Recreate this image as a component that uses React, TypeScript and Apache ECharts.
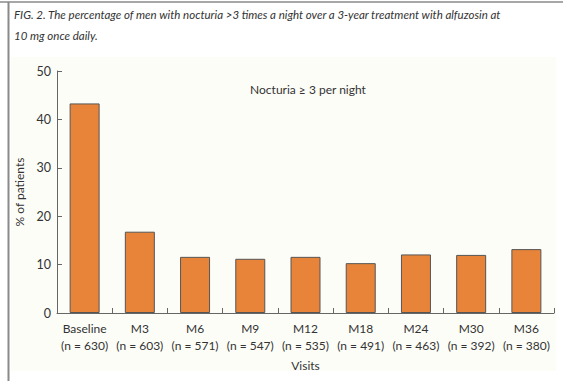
import React, { useEffect, useRef } from "react";
import * as echarts from "echarts";

const categories = ["Baseline", "M3", "M6", "M9", "M12", "M18", "M24", "M30", "M36"];
const sampleSizes = [630, 603, 571, 547, 535, 491, 463, 392, 380];
const percentValues = [43.3, 16.8, 11.6, 11.2, 11.6, 10.3, 12.1, 12.0, 13.2];
const yTicks = [0, 10, 20, 30, 40, 50];

const captionLine1 = "FIG. 2. The percentage of men with nocturia >3 times a night over a 3-year treatment with alfuzosin at";
const captionLine2 = "10 mg once daily.";
const panelTitle = "Nocturia \u2265 3 per night";

const FONT = "Lato";

export default function App() {
  const ref = useRef<HTMLDivElement>(null);
  useEffect(() => {
    if (!ref.current) return;
    const chart = echarts.init(ref.current, undefined, { renderer: "svg" });
    const labels = categories.map((c, i) => `${c}\n(n = ${sampleSizes[i]})`);
    chart.setOption({
      animation: false,
      backgroundColor: "#ffffff",
      textStyle: { fontFamily: FONT },
      grid: { left: 57, right: 9, top: 71, bottom: 68 },
      graphic: [
        { type: "rect", z: -10, shape: { x: 11, y: 57, width: 545, height: 314 }, style: { fill: "#fdfdf8" } },
        { type: "line", z: 10, shape: { x1: 0, y1: 2, x2: 563, y2: 2 }, style: { stroke: "#8a8a8a", lineWidth: 1.5 } },
        { type: "line", z: 10, shape: { x1: 8.5, y1: 2, x2: 8.5, y2: 381 }, style: { stroke: "#8a8a8a", lineWidth: 2 } },
        {
          type: "text", left: 14, top: 8,
          style: { text: captionLine1, font: `italic 11.5px ${FONT}`, fill: "#333" },
        },
        {
          type: "text", left: 14, top: 29,
          style: { text: captionLine2, font: `italic 11.5px ${FONT}`, fill: "#333" },
        },
        {
          type: "text", x: 308, y: 89,
          style: { text: panelTitle, font: `12px ${FONT}`, fill: "#333", align: "center", verticalAlign: "middle" },
        },
      ],
      xAxis: {
        type: "category",
        data: labels,
        name: "Visits",
        nameLocation: "middle",
        nameGap: 46,
        nameTextStyle: { fontSize: 12, color: "#333", fontFamily: FONT },
        axisLine: { lineStyle: { color: "#666", width: 1 } },
        axisTick: { show: true, inside: true, length: 5, alignWithLabel: false, lineStyle: { color: "#666" } },
        axisLabel: { color: "#333", fontSize: 12, lineHeight: 17, margin: 7, interval: 0, fontFamily: FONT },
      },
      yAxis: {
        type: "value",
        min: 0,
        max: 50,
        interval: 10,
        name: "% of patients",
        nameLocation: "middle",
        nameGap: 31,
        nameTextStyle: { fontSize: 12, color: "#333", fontFamily: FONT },
        splitLine: { show: false },
        axisLine: { show: true, lineStyle: { color: "#666", width: 1 } },
        axisTick: { show: true, inside: true, length: 5, lineStyle: { color: "#666" } },
        axisLabel: {
          color: "#333", fontSize: 12.5, margin: 6, fontFamily: FONT,
          formatter: (v: number) => (yTicks.includes(v) ? String(v) : ""),
        },
      },
      series: [
        {
          type: "bar",
          data: percentValues,
          barWidth: 30,
          itemStyle: { color: "#e8843a", borderColor: "#555", borderWidth: 1 },
        },
      ],
    });
    return () => chart.dispose();
  }, []);
  return <div ref={ref} style={{ position: "absolute", left: 0, top: 0, width: 563, height: 381 }} />;
}
